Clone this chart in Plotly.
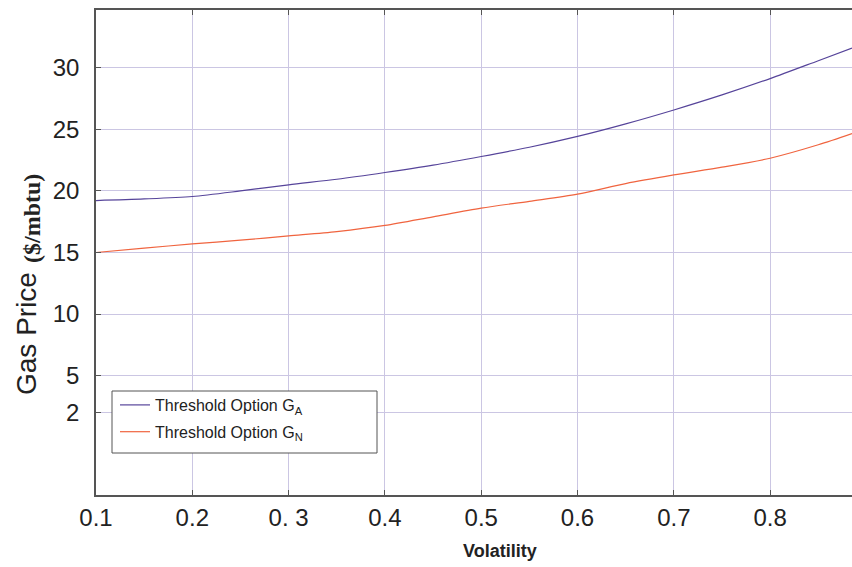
import plotly.graph_objects as go

# Volatility sample points
volatility = [0.1, 0.15, 0.2, 0.25, 0.3, 0.35, 0.4, 0.45, 0.5, 0.55, 0.6, 0.65, 0.7, 0.75, 0.8, 0.85, 0.885]
# Threshold Option G_A
price_ga = [19.22, 19.35, 19.55, 20.0, 20.5, 20.95, 21.5, 22.1, 22.8, 23.55, 24.43, 25.45, 26.58, 27.8, 29.13, 30.58, 31.6]
# Threshold Option G_N
price_gn = [15.0, 15.35, 15.7, 16.0, 16.35, 16.7, 17.2, 17.9, 18.6, 19.16, 19.74, 20.6, 21.3, 21.93, 22.66, 23.75, 24.66]

x_tickvals = [0.1, 0.2, 0.3, 0.4, 0.5, 0.6, 0.7, 0.8]
x_ticktext = ["0.1", "0.2", "0. 3", "0.4", "0.5", "0.6", "0.7", "0.8"]
y_tickvals = [2, 5, 10, 15, 20, 25, 30]
y_ticktext = ["2", "5", "10", "15", "20", "25", "30"]

fig = go.Figure()
fig.add_trace(go.Scatter(x=volatility, y=price_ga, mode="lines",
                         line=dict(color="#56449a", width=1.2, shape="spline", smoothing=0.8),
                         name="Threshold Option G<sub>A</sub>", legendgroup="a"))
fig.add_trace(go.Scatter(x=volatility, y=price_gn, mode="lines",
                         line=dict(color="#f0643f", width=1.2, shape="spline", smoothing=0.8),
                         name="Threshold Option G<sub>N</sub>", legendgroup="b"))

axis_line = "#555555"
grid = "#cbc6e3"
W, H = 852, 567
L, T, B = 96, 10, 72
PW, PH = W - L, H - T - B


def px_x(x):
    return (x - L) / PW


def px_y(y):
    return (H - B - y) / PH


fig.update_layout(
    width=W, height=H,
    margin=dict(l=L, r=0, t=T, b=B),
    paper_bgcolor="white", plot_bgcolor="white",
    font=dict(family="Liberation Sans, Arial, sans-serif", color="#222222"),
    xaxis=dict(range=[0.1, 0.885], tickvals=x_tickvals, ticktext=x_ticktext,
               showgrid=True, gridcolor=grid, gridwidth=1, zeroline=False,
               showline=True, linecolor=axis_line, linewidth=1.5, mirror="ticks",
               ticks="inside", ticklen=5, tickcolor=axis_line,
               tickfont=dict(size=24, color="#222222")),
    yaxis=dict(range=[-4.7, 34.7], tickvals=y_tickvals, ticktext=y_ticktext,
               showgrid=True, gridcolor=grid, gridwidth=1, zeroline=False,
               showline=True, linecolor=axis_line, linewidth=1.5, mirror=False,
               ticks="inside", ticklen=5, tickcolor=axis_line, ticklabelstandoff=10,
               tickfont=dict(size=24, color="#222222")),
    legend=dict(x=px_x(115), y=px_y(388), xanchor="left", yanchor="top",
                bgcolor="rgba(0,0,0,0)", borderwidth=0,
                font=dict(size=16, color="#222222"),
                itemwidth=30, tracegroupgap=3),
    showlegend=True,
)

# legend frame
fig.add_shape(type="rect", xref="paper", yref="paper",
              x0=px_x(112), x1=px_x(377), y0=px_y(453), y1=px_y(391),
              line=dict(color="#555555", width=1), fillcolor="white", layer="above")

fig.add_annotation(text="Gas Price",
                   xref="paper", yref="paper", x=px_x(26), y=px_y(334),
                   textangle=-90, showarrow=False,
                   font=dict(size=28, color="#222222", family="Liberation Sans, Arial, sans-serif"),
                   xanchor="center", yanchor="middle")
fig.add_annotation(text="<b>($/mbtu)</b>",
                   xref="paper", yref="paper", x=px_x(32), y=px_y(219),
                   textangle=-90, showarrow=False,
                   font=dict(size=24, color="#222222", family="Liberation Serif, Times New Roman, serif"),
                   xanchor="center", yanchor="middle")
fig.add_annotation(text="<b>Volatility</b>", xref="paper", yref="paper",
                   x=px_x(500), y=px_y(551), showarrow=False,
                   font=dict(size=18, color="#222222"), xanchor="center", yanchor="middle")

fig.write_html("out.html")
